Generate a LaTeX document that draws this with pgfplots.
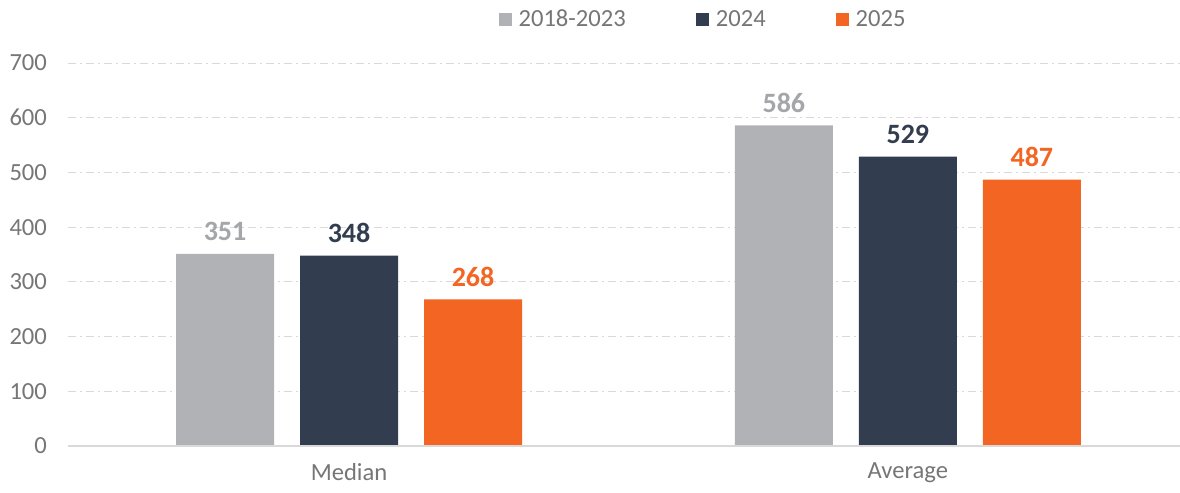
\documentclass[border=0pt]{standalone}
\usepackage{fontspec}
\setmainfont{Carlito}
\usepackage{pgfplots}
\pgfplotsset{compat=1.18}
\definecolor{cgray}{HTML}{B1B2B6}
\definecolor{cnavy}{HTML}{323E4F}
\definecolor{corange}{HTML}{F26522}
\definecolor{ctext}{HTML}{767676}
\definecolor{cgrid}{HTML}{D9D9D9}
\definecolor{clabgray}{HTML}{A5A6A9}
\begin{document}
\begin{tikzpicture}
\begin{axis}[
  name=ax,
  scale only axis,
  width=556pt, height=191.5pt,
  ybar=13pt, bar width=49pt,
  xmin=-0.503, xmax=1.487,
  ymin=0, ymax=700,
  ytick={0,100,...,700},
  xtick={0,1}, xticklabels={Median,Average},
  /pgf/number format/assume math mode=true,
  major tick length=0pt,
  tick style={draw=none},
  axis line style={draw=none},
  ymajorgrids,
  grid style={cgrid, dash pattern=on 4pt off 2pt on 1pt off 2pt},
  tick label style={font=\fontsize{12.3}{14}\selectfont, text=ctext},
  yticklabel style={xshift=-7pt},
  xticklabel style={yshift=-5pt},
  nodes near coords,
  every node near coord/.append style={font=\bfseries\fontsize{14}{16}\selectfont, yshift=3pt},
  legend columns=3,
  legend style={draw=none, fill=none, at={(0.572,1.0)}, anchor=center, yshift=21.5pt,
    font=\fontsize{12.3}{14}\selectfont, text=ctext,
    /tikz/every even column/.append style={column sep=33pt},
    /tikz/every odd column/.append style={column sep=1.5pt}},
  legend image code/.code={\fill[#1] (0pt,-3.25pt) rectangle (6.5pt,3.25pt);},
  clip=false,
]
\addplot[fill=cgray, draw=none, every node near coord/.append style={text=clabgray}] coordinates {(0,351) (1,586)};
\addplot[fill=cnavy, draw=none, every node near coord/.append style={text=cnavy}] coordinates {(0,348) (1,529)};
\addplot[fill=corange, draw=none, every node near coord/.append style={text=corange}] coordinates {(0,268) (1,487)};
\legend{2018-2023,2024,2025}
\draw[cgrid, line width=0.8pt] (rel axis cs:0,0) -- (rel axis cs:1,0);
\end{axis}
\pgfresetboundingbox
\path ([shift={(-34pt,-23.5pt)}]ax.south west) rectangle ([shift={(0pt,31.5pt)}]ax.north east);
\end{tikzpicture}
\end{document}
